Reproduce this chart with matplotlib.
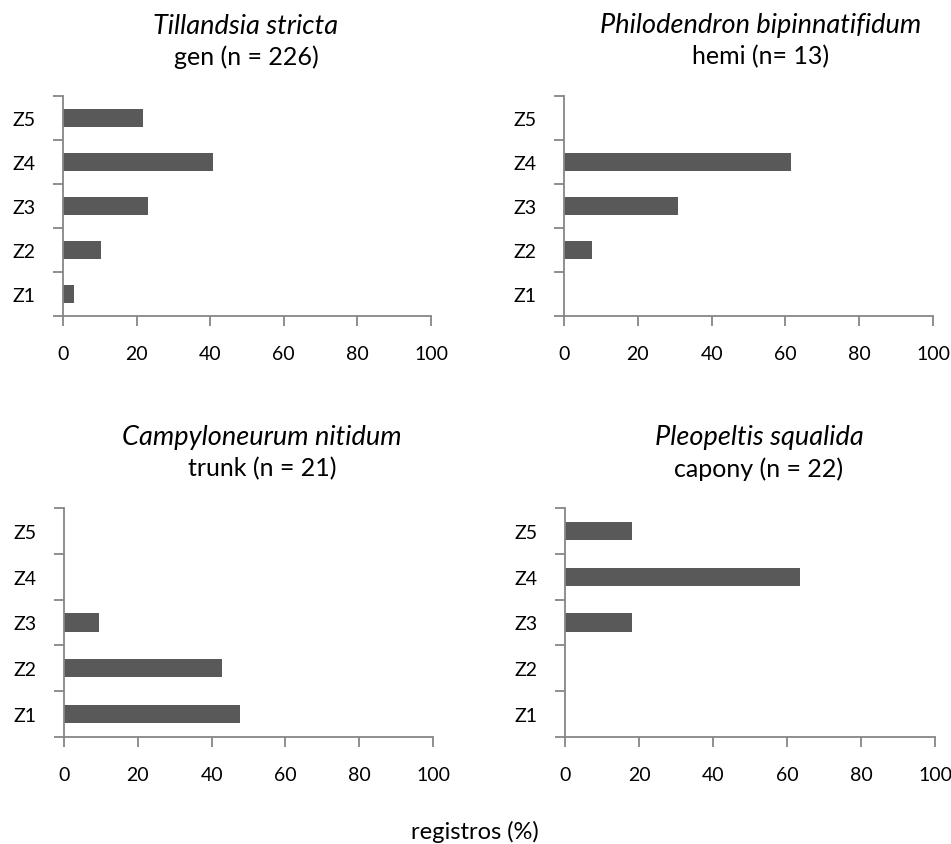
import matplotlib.pyplot as plt
import numpy as np

plt.rcParams['font.family'] = ['Lato', 'DejaVu Sans']

zones = ['Z1', 'Z2', 'Z3', 'Z4', 'Z5']
species = ['Tillandsia stricta', 'Philodendron bipinnatifidum',
           'Campyloneurum nitidum', 'Pleopeltis squalida']
groups = ['gen (n = 226)', 'hemi (n= 13)', 'trunk (n = 21)', 'capony (n = 22)']

# percent of records per zone (Z1..Z5)
tillandsia = [3.1, 10.2, 23.0, 40.7, 21.7]
philodendron = [0, 7.7, 30.8, 61.5, 0]
campyloneurum = [47.6, 42.9, 9.5, 0, 0]
pleopeltis = [0, 0, 18.2, 63.6, 18.2]
values = [tillandsia, philodendron, campyloneurum, pleopeltis]

axis_color = '#868686'
bar_color = '#595959'

fig = plt.figure(figsize=(9.51, 8.45), dpi=100)
positions = [
    [63/951, 1-317/845, 368/951, 220/845],
    [564/951, 1-317/845, 369/951, 220/845],
    [64/951, 1-738/845, 369/951, 229/845],
    [565/951, 1-738/845, 370/951, 229/845],
]
# title centres in pixels (x, y of first line)
title_xy = [(246, 26), (761, 26), (262, 438), (759, 438)]

y = np.arange(len(zones))
for i in range(4):
    ax = fig.add_axes(positions[i])
    ax.barh(y, values[i], height=0.4, color=bar_color)
    ax.set_xlim(0, 100)
    ax.set_ylim(-0.5, 4.5)
    ax.set_xticks(np.arange(0, 101, 20))
    ax.set_yticks(np.arange(-0.5, 5, 1))
    ax.set_yticklabels([])
    ax.set_yticks(y, minor=True)
    ax.set_yticklabels(zones, minor=True, fontsize=14)
    ax.tick_params(axis='y', which='minor', length=0, pad=20)
    ax.tick_params(axis='y', which='major', length=7, width=1.3, color=axis_color)
    ax.tick_params(axis='x', length=7, width=1.3, color=axis_color, pad=14, labelsize=14)
    for s in ['top', 'right']:
        ax.spines[s].set_visible(False)
    for s in ['left', 'bottom']:
        ax.spines[s].set_color(axis_color)
        ax.spines[s].set_linewidth(1.3)
    tx, ty = title_xy[i]
    fig.text(tx/951, 1-ty/845, species[i], ha='center', va='center',
             fontsize=19.5, style='italic')
    fig.text(tx/951, 1-(ty+31)/845, groups[i], ha='center', va='center', fontsize=18)

fig.text(475/951, 1-832/845, 'registros (%)', ha='center', va='center', fontsize=17)

fig.savefig('out.png', dpi=100)
